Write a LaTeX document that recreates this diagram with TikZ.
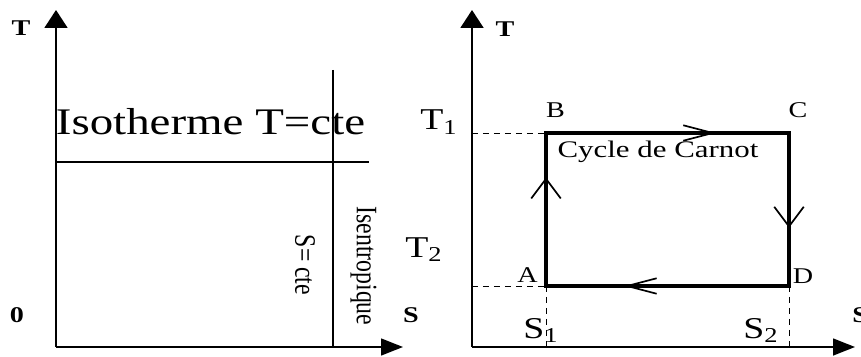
\documentclass[tikz,border=0pt]{standalone}
\usepackage{fontspec}
\setmainfont{Liberation Serif}
\usetikzlibrary{arrows.meta,decorations.markings}
\tikzset{
  vtri/.tip={Triangle[length=12.8pt,width=16.4pt]},
  htri/.tip={Triangle[length=15.6pt,width=12pt]},
  vbarb/.tip={Straight Barb[length=14pt,width=21pt,line width=1.2pt]},
  hbarb/.tip={Straight Barb[length=21pt,width=11pt,line width=1.2pt]},
  axis/.style={line width=1.2pt},
  guide/.style={line width=0.7pt,dash pattern=on 4.3pt off 3.5pt},
  carnot/.style={line width=2.6pt,line join=miter},
  flow/.style 2 args={postaction={decorate},decoration={markings,mark=at position #1 with {\arrow{#2}}}},
  txt/.style={inner sep=0pt,xscale=1.25},
  axlbl/.style={txt,font=\fontsize{16}{18}\selectfont\bfseries},
  ptlbl/.style={txt,font=\fontsize{16}{18}\selectfont},
  vallbl/.style={txt,font=\fontsize{21.5}{24}\selectfont,anchor=base west},
}
\begin{document}
\begin{tikzpicture}[x=0.025cm,y=0.025cm]
  \useasboundingbox (0,0) rectangle (861,356);
  % isotherme / isentropique
  \coordinate (O1) at (56,9);
  \coordinate (Tend1) at (56,346);
  \coordinate (Send1) at (403,9);
  \coordinate (iso0) at (56,194);
  \coordinate (iso1) at (369,194);
  \coordinate (ise0) at (333,286);
  \coordinate (ise1) at (333,9);
  \draw[axis,-vtri] (O1) -- (Tend1);
  \draw[axis,-htri] (O1) -- (Send1);
  \draw[axis] (iso0) -- (iso1);
  \draw[axis] (ise0) -- (ise1);
  \node[axlbl] (Tlab1) at (21,327.5) {T};
  \node[axlbl] (zero) at (17,41) {0};
  \node[axlbl] (Slab1) at (411,41) {S};
  \node[txt,font=\fontsize{26.7}{30}\selectfont,anchor=base] (isoth) at (210.5,221) {Isotherme T=cte};
  \node[txt,font=\fontsize{16.9}{18}\selectfont,rotate=-90] (scte) at (305,91) {S= cte};
  \node[txt,font=\fontsize{16.9}{18}\selectfont,rotate=-90] (isent) at (363.5,90) {Isentropique};
  % cycle de Carnot
  \coordinate (O2) at (472,9);
  \coordinate (Tend2) at (472,346);
  \coordinate (Send2) at (855,9);
  \coordinate (A) at (546,70);
  \coordinate (B) at (546,223);
  \coordinate (C) at (789,223);
  \coordinate (D) at (789,70);
  \coordinate (T1y) at (472,223);
  \coordinate (T2y) at (472,70);
  \coordinate (S1x) at (546,9);
  \coordinate (S2x) at (789,9);
  \draw[axis,-vtri] (O2) -- (Tend2);
  \draw[axis,-htri] (O2) -- (Send2);
  \draw[guide] (T1y) -- (B);
  \draw[guide] (T2y) -- (A);
  \draw[guide] (A) -- (S1x);
  \draw[guide] (D) -- (S2x);
  \draw[carnot] (A) -- (B) -- (C) -- (D) -- cycle;
  \path[flow={0.7}{hbarb}] (B) -- (C);
  \path[flow={0.62}{vbarb}] (C) -- (D);
  \path[flow={0.68}{hbarb}] (D) -- (A);
  \path[flow={0.71}{vbarb}] (A) -- (B);
  \node[axlbl] (Tlab2) at (505,327) {T};
  \node[axlbl,anchor=west] (Slab2) at (852,41) {S};
  \node[vallbl] (T1) at (420,226) {T\textsubscript{1}};
  \node[vallbl] (T2) at (405,99) {T\textsubscript{2}};
  \node[vallbl] (S1) at (523,18) {S\textsubscript{1}};
  \node[vallbl] (S2) at (743,18) {S\textsubscript{2}};
  \node[ptlbl] (Alab) at (527.5,80.5) {A};
  \node[ptlbl] (Blab) at (555.5,245.5) {B};
  \node[ptlbl] (Clab) at (798,245.5) {C};
  \node[ptlbl] (Dlab) at (803,80) {D};
  \node[txt,font=\fontsize{16.9}{18}\selectfont,xscale=1.04,anchor=base] (cyc) at (658,198) {Cycle de Carnot};
\end{tikzpicture}
\end{document}
